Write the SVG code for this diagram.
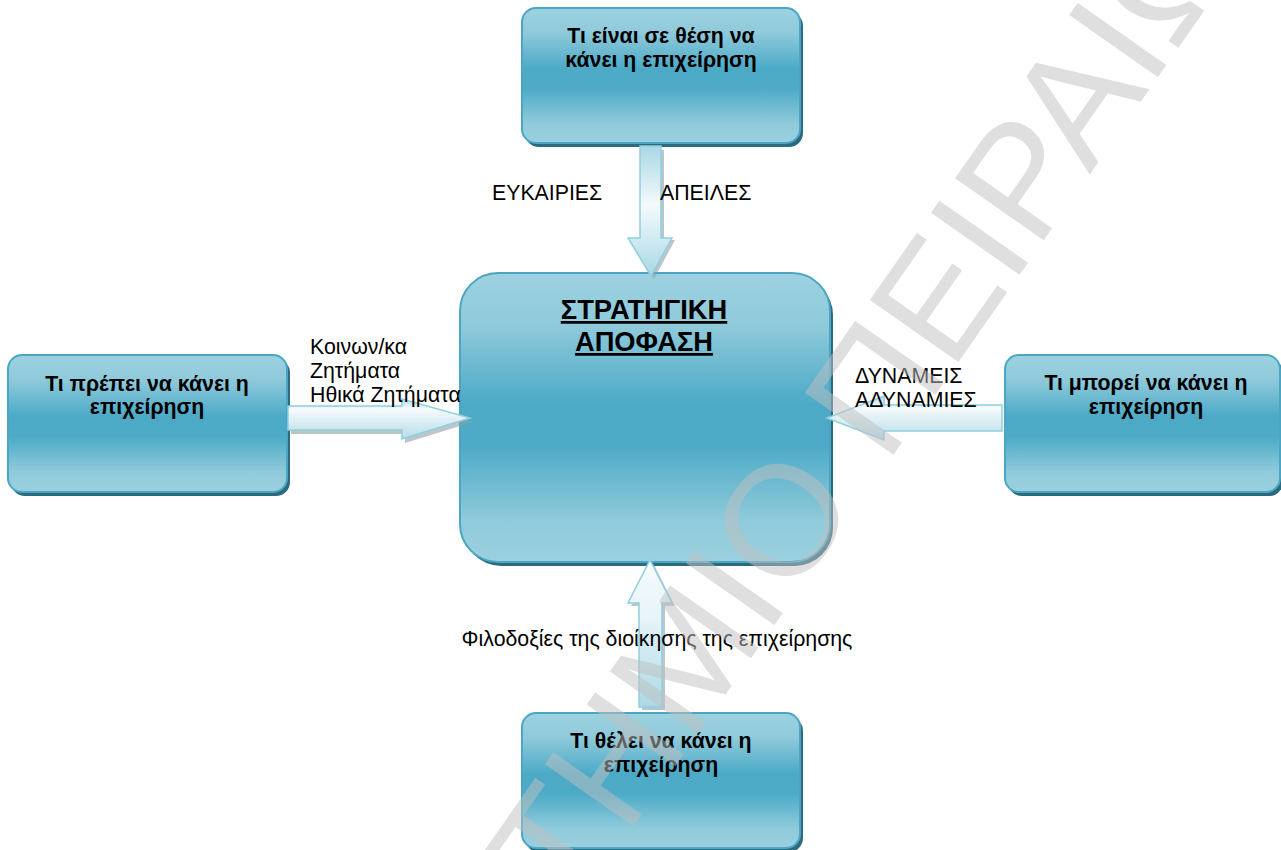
<svg xmlns="http://www.w3.org/2000/svg" width="1281" height="850" viewBox="0 0 1281 850">
<defs>
<linearGradient id="boxg" x1="0" y1="0" x2="0" y2="1">
<stop offset="0" stop-color="#9dd2e0"/>
<stop offset="0.18" stop-color="#8fcadb"/>
<stop offset="0.45" stop-color="#4caac7"/>
<stop offset="0.6" stop-color="#4eabc8"/>
<stop offset="0.86" stop-color="#90cbdb"/>
<stop offset="1" stop-color="#9bd0df"/>
</linearGradient>
<linearGradient id="arrH" x1="0" y1="0" x2="0" y2="1">
<stop offset="0" stop-color="#b2dce8"/>
<stop offset="0.25" stop-color="#f7fbfd"/>
<stop offset="1" stop-color="#b5dce7"/>
</linearGradient>
<linearGradient id="arrD" x1="0" y1="0" x2="0" y2="1">
<stop offset="0" stop-color="#a9d8e5"/>
<stop offset="0.45" stop-color="#f5fafc"/>
<stop offset="0.72" stop-color="#cfeaf1"/>
<stop offset="1" stop-color="#a9d8e5"/>
</linearGradient>
<linearGradient id="arrU" x1="0" y1="0" x2="0" y2="1">
<stop offset="0" stop-color="#f7fbfd"/>
<stop offset="0.4" stop-color="#e6f4f8"/>
<stop offset="1" stop-color="#abd9e6"/>
</linearGradient>
<style>
.shadow{fill:#2c6a7d}
.box{fill:url(#boxg);stroke:#4aa6c3;stroke-width:2}
.nt{font-family:"Liberation Sans",Arial,sans-serif;font-weight:bold;font-size:21.3px;fill:#000;text-anchor:middle}
.lb{font-family:"Liberation Sans",Arial,sans-serif;font-size:21.3px;fill:#000}
.title{font-family:"Liberation Sans",Arial,sans-serif;font-weight:bold;font-size:27.3px;fill:#000;text-anchor:middle;text-decoration:underline}
.arr{stroke:#8fd0e0;stroke-width:1.5}
.ash{fill:#8f9fa6;opacity:0.6}
.wm{font-family:"Liberation Sans",Arial,sans-serif;font-size:157px;fill:#c0c0c0;fill-opacity:0.5}
</style>
</defs>
<rect width="1281" height="850" fill="#ffffff"/>

<g id="node-top">
<rect class="shadow" x="525" y="12" width="278" height="135" rx="14"/>
<rect class="box" x="522" y="8" width="278" height="135" rx="14"/>
<text class="nt" x="661" y="43">Τι είναι σε θέση να</text>
<text class="nt" x="661" y="67">κάνει η επιχείρηση</text>
</g>

<g id="node-left">
<rect class="shadow" x="11" y="359" width="279" height="137" rx="14"/>
<rect class="box" x="8" y="355" width="279" height="137" rx="14"/>
<text class="nt" x="147" y="391">Τι πρέπει να κάνει η</text>
<text class="nt" x="147" y="414">επιχείρηση</text>
</g>

<g id="node-right">
<rect class="shadow" x="1008" y="359" width="275" height="137" rx="14"/>
<rect class="box" x="1005" y="355" width="275" height="137" rx="14"/>
<text class="nt" x="1146" y="390">Τι μπορεί να κάνει η</text>
<text class="nt" x="1146" y="414">επιχείρηση</text>
</g>

<g id="node-bottom">
<rect class="shadow" x="525" y="717" width="278" height="135" rx="14"/>
<rect class="box" x="522" y="713" width="278" height="135" rx="14"/>
<text class="nt" x="661" y="748">Τι θέλει να κάνει η</text>
<text class="nt" x="661" y="772">επιχείρηση</text>
</g>

<g id="node-center">
<rect class="shadow" x="463" y="277" width="370" height="289" rx="38"/>
<rect class="box" x="460" y="273" width="370" height="289" rx="38"/>
<text class="title" x="644" y="319">ΣΤΡΑΤΗΓΙΚΗ</text>
<text class="title" x="644" y="351">ΑΠΟΦΑΣΗ</text>
</g>

<g id="connectors">
<polygon class="ash" points="643,150 664,150 664,240 675,240 654,279 631,240 643,240"/>
<polygon class="arr" fill="url(#arrD)" points="640,146 661,146 661,238 672,238 651,276 628,238 640,238"/>
<polygon class="ash" points="291,410 405,410 405,402 473,422 405,443 405,434 291,434"/>
<polygon class="arr" fill="url(#arrH)" points="288,406 402,406 402,399 470,418 402,439 402,430 288,430"/>
<polygon class="arr" fill="url(#arrH)" points="1002,405 884,405 884,396 827,418 884,440 884,431 1002,431"/>
<polygon class="ash" points="653,563 675,606 665,606 665,710 642,710 642,606 631,606"/>
<polygon class="arr" fill="url(#arrU)" points="650,560 672,603 662,603 662,707 639,707 639,603 628,603"/>
</g>

<g id="labels">
<text class="lb" x="492" y="200">ΕΥΚΑΙΡΙΕΣ</text>
<text class="lb" x="660" y="200">ΑΠΕΙΛΕΣ</text>
<text class="lb" x="310" y="354">Κοινων/κα</text>
<text class="lb" x="310" y="378">Ζητήματα</text>
<text class="lb" x="310" y="402">Ηθικά Ζητήματα</text>
<text class="lb" x="855" y="383">ΔΥΝΑΜΕΙΣ</text>
<text class="lb" x="855" y="407">ΑΔΥΝΑΜΙΕΣ</text>
<text class="lb" x="657" y="646" text-anchor="middle">Φιλοδοξίες της διοίκησης της επιχείρησης</text>
</g>

<g id="watermark" transform="translate(826,551) rotate(-55)">
<text class="wm" x="-1135" y="0">ΠΑΝΕΠΙΣΤΗΜΙΟ ΠΕΙΡΑΙΩΣ</text>
</g>
</svg>
